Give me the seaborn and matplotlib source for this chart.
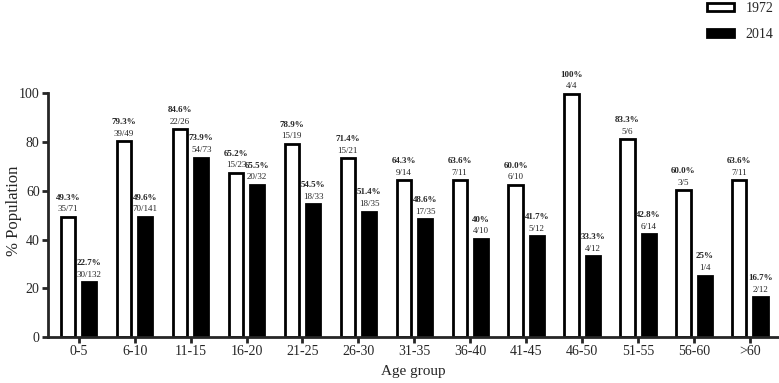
import numpy as np
import pandas as pd
import matplotlib.pyplot as plt
import seaborn as sns
from matplotlib.patches import Patch

sns.set_style("ticks")
plt.rcParams['font.family'] = ['Liberation Serif', 'DejaVu Serif']

# Data
age_groups = ['0-5', '6-10', '11-15', '16-20', '21-25', '26-30', '31-35',
              '36-40', '41-45', '46-50', '51-55', '56-60', '>60']
height_1972 = [49.3, 80.3, 85.3, 67.4, 79.3, 73.3, 64.4, 64.4, 62.5, 99.8, 81.3, 60.3, 64.4]
height_2014 = [22.4, 49.3, 73.6, 62.5, 54.5, 51.5, 48.4, 40.3, 41.4, 33.2, 42.3, 25.2, 16.3]
pct_1972 = ['49.3%', '79.3%', '84.6%', '65.2%', '78.9%', '71.4%', '64.3%',
            '63.6%', '60.0%', '100%', '83.3%', '60.0%', '63.6%']
pct_2014 = ['22.7%', '49.6%', '73.9%', '65.5%', '54.5%', '51.4%', '48.6%',
            '40%', '41.7%', '33.3%', '42.8%', '25%', '16.7%']
frac_1972 = ['35/71', '39/49', '22/26', '15/23', '15/19', '15/21', '9/14',
             '7/11', '6/10', '4/4', '5/6', '3/5', '7/11']
frac_2014 = ['30/132', '70/141', '54/73', '20/32', '18/33', '18/35', '17/35',
             '4/10', '5/12', '4/12', '6/14', '1/4', '2/12']

df = pd.DataFrame({
    'age': age_groups * 2,
    'year': ['1972'] * len(age_groups) + ['2014'] * len(age_groups),
    'value': height_1972 + height_2014,
})

fig = plt.figure(figsize=(7.79, 3.83), dpi=100)
ax = fig.add_axes([0.0616, 0.12, 0.937, 0.636])

sns.barplot(data=df, x='age', y='value', hue='year', hue_order=['1972', '2014'],
            palette={'1972': 'white', '2014': 'black'}, edgecolor='black',
            linewidth=2, width=0.76, gap=0.33, legend=False, ax=ax)

for cont, pct, frac in zip(ax.containers, [pct_1972, pct_2014], [frac_1972, frac_2014]):
    ax.bar_label(cont, labels=frac, padding=2.5, fontsize=6.5, clip_on=False)
    ax.bar_label(cont, labels=pct, padding=11, fontsize=6.5, fontweight='bold', clip_on=False)

ax.set_ylim(0, 100)
ax.set_xlim(-0.55, 12.5)
ax.set_yticks([0, 20, 40, 60, 80, 100])
ax.tick_params(axis='both', width=2, length=4, labelsize=10, pad=2)
for s in ['left', 'bottom']:
    ax.spines[s].set_linewidth(2)
sns.despine(ax=ax)
ax.set_ylabel('% Population', fontsize=12, va='center')
ax.yaxis.set_label_coords(-0.046, 0.52)
ax.set_xlabel('Age group', fontsize=11, labelpad=5)

handles = [Patch(facecolor='white', edgecolor='black', linewidth=2, label='1972'),
           Patch(facecolor='black', edgecolor='black', linewidth=2, label='2014')]
fig.legend(handles=handles, loc='upper left', bbox_to_anchor=(0.891, 1.027),
           frameon=False, fontsize=10, handlelength=1.95, handleheight=0.5,
           labelspacing=0.95, handletextpad=0.86)

fig.savefig('out.png', dpi=100)
